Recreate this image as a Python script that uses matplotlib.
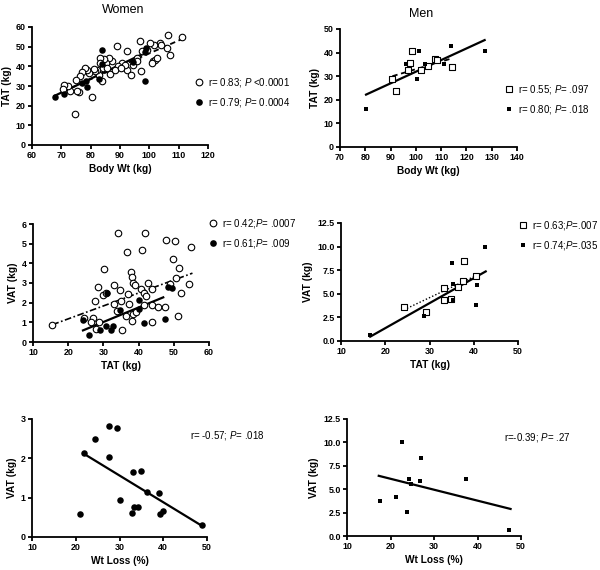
import matplotlib
matplotlib.use("Agg")
import matplotlib.pyplot as plt
from matplotlib.lines import Line2D
from matplotlib.ticker import FormatStrFormatter

plt.rcParams["font.family"] = ["Liberation Sans", "DejaVu Sans"]
plt.rcParams["mathtext.fontset"] = "custom"
plt.rcParams["mathtext.rm"] = "Liberation Sans"
plt.rcParams["mathtext.it"] = "Liberation Sans:italic"

# women: TAT vs body weight (open = all, filled = subgroup)
w_wt_open = [111.3, 106.4, 105.9, 107.0, 103.6, 104.0, 101.6, 100.2, 101.3, 102.0,
             100.9, 96.8, 97.6, 97.1, 95.7, 88.9, 92.5, 92.3, 93.6, 90.6,
             91.7, 89.2, 87.2, 86.4, 85.3, 84.6, 83.2, 83.2, 83.7, 82.8,
             82.1, 81.5, 81.0, 79.6, 78.7, 78.1, 77.0, 76.4, 75.1, 86.6,
             84.3, 80.4, 75.9, 75.3, 73.0, 72.2, 70.8, 70.5, 74.7, 85.7,
             88.3, 90.2, 94.5, 95.9, 99.1, 102.5]
w_tat_open = [54.8, 55.8, 49.3, 45.7, 51.9, 50.7, 51.0, 51.9, 42.9, 43.4,
              41.5, 53.0, 47.6, 37.4, 44.2, 50.2, 48.0, 38.3, 35.7, 41.7,
              40.8, 40.0, 42.5, 44.2, 41.7, 43.7, 44.2, 41.7, 32.3, 35.7,
              38.3, 37.4, 38.6, 36.6, 37.9, 39.1, 36.9, 34.9, 33.2, 36.2,
              39.1, 24.3, 26.7, 27.7, 27.4, 30.1, 30.3, 28.4, 15.8, 39.1,
              38.3, 39.1, 40.8, 42.5, 48.5, 44.2]
w_wt_fill = [67.7, 70.8, 84.0, 98.6, 98.8, 98.5, 94.5, 78.7, 78.5, 77.0, 82.9, 84.0]
w_tat_fill = [24.3, 25.9, 48.1, 32.3, 49.3, 47.3, 42.0, 29.4, 32.3, 31.5, 33.7, 41.0]
w_fit1_open_x = [70.5, 111.3]
w_fit1_open_y = [27.2, 54.0]
w_fit1_fill_x = [67.7, 98.8]
w_fit1_fill_y = [25.0, 47.0]

# men: TAT vs body weight
m_wt_open = [98.6, 97.6, 97.0, 90.7, 92.0, 102.2, 104.9, 107.5, 108.4, 114.1]
m_tat_open = [40.5, 35.8, 32.6, 29.0, 23.6, 32.6, 34.3, 37.4, 36.8, 33.8]
m_wt_fill = [80.3, 101.2, 96.1, 100.3, 103.8, 111.2, 113.8, 127.2]
m_tat_fill = [16.1, 40.8, 35.1, 28.8, 35.1, 35.2, 42.6, 40.5]
m_fit1_open_x = [90.7, 114.1]
m_fit1_open_y = [30.0, 37.5]
m_fit1_fill_x = [80.3, 127.2]
m_fit1_fill_y = [22.2, 45.3]

# women: VAT vs TAT
w_tat2_open = [15.5, 24.5, 27.0, 26.6, 28.0, 28.8, 27.7, 28.6, 30.1, 29.9,
               30.7, 33.0, 32.9, 33.9, 34.2, 34.8, 35.4, 35.1, 36.5, 36.7,
               36.9, 37.3, 37.9, 38.2, 38.4, 38.9, 38.4, 38.2, 39.2, 41.1,
               41.7, 40.8, 41.4, 42.0, 41.6, 42.7, 43.8, 43.7, 43.7, 45.5,
               47.4, 47.9, 50.4, 49.8, 51.4, 50.7, 48.8, 52.1, 51.2, 54.3, 55.0]
w_vat2_open = [0.86, 1.22, 1.22, 1.00, 0.65, 1.02, 2.10, 2.80, 3.70, 2.40,
               2.49, 2.92, 1.95, 1.59, 5.54, 2.66, 0.63, 2.07, 1.31, 4.58,
               2.46, 1.95, 3.56, 3.29, 3.00, 2.92, 1.40, 1.05, 1.53, 4.66,
               5.54, 2.71, 2.50, 2.33, 1.86, 3.00, 2.71, 1.90, 1.00, 1.78,
               1.78, 5.17, 5.14, 4.20, 3.75, 3.26, 2.97, 2.50, 1.31, 2.97, 4.83]
w_tat2_fill = [24.2, 25.8, 29.1, 30.6, 31.0, 32.3, 32.6, 34.8, 40.1, 40.0,
               41.5, 47.6, 48.4, 49.4]
w_vat2_fill = [1.10, 0.34, 0.63, 0.83, 2.49, 0.63, 0.80, 1.64, 2.15, 1.69,
               0.98, 1.19, 2.80, 2.75]
w_fit2_open_x = [15.5, 55.3]
w_fit2_open_y = [0.88, 3.50]
w_fit2_fill_x = [24.2, 47.0]
w_fit2_fill_y = [0.59, 2.27]

# men: VAT vs TAT
m_tat2_open = [24.2, 29.2, 33.3, 33.3, 34.8, 36.5, 37.5, 37.8, 40.4]
m_vat2_open = [3.56, 3.10, 4.30, 5.63, 4.46, 5.67, 6.37, 8.50, 6.90]
m_tat2_fill = [16.6, 28.8, 35.0, 35.2, 35.2, 40.6, 40.8, 42.5]
m_vat2_fill = [0.64, 2.66, 8.25, 6.06, 4.30, 3.80, 5.90, 10.0]
m_fit2_open_x = [24.2, 40.4]
m_fit2_open_y = [3.30, 6.90]
m_fit2_fill_x = [16.6, 42.7]
m_fit2_fill_y = [0.46, 7.37]

# VAT vs weight loss
w_loss = [21.0, 21.8, 24.4, 27.5, 29.5, 27.5, 30.0, 33.1, 34.8, 32.9,
          33.3, 34.2, 36.2, 39.1, 39.2, 39.9, 48.9]
w_vat3 = [0.58, 2.14, 2.50, 2.83, 2.76, 2.03, 0.95, 1.65, 1.69, 0.60,
          0.76, 0.76, 1.14, 1.11, 0.58, 0.65, 0.30]
w_fit3_x = [21.8, 48.9]
w_fit3_y = [2.12, 0.28]
m_loss = [17.5, 21.2, 22.6, 23.8, 24.3, 24.7, 26.7, 27.0, 37.3, 47.2]
m_vat3 = [3.79, 4.14, 10.0, 2.61, 6.07, 5.57, 5.89, 8.29, 6.07, 0.64]
m_fit3_x = [17.3, 47.6]
m_fit3_y = [6.43, 2.89]

fig = plt.figure(figsize=(6, 5.7), dpi=100)


def add_ax(l, r, t, b):
    # pixel box -> figure fraction
    return fig.add_axes([l / 600, 1 - b / 570, (r - l) / 600, (b - t) / 570])


def style(ax, xlim, xstep, ylim, ystep, xlabel, ylabel, yfmt=None):
    ax.set_xlim(*xlim)
    ax.set_ylim(*ylim)
    ax.set_xticks([xlim[0] + i * xstep for i in range(int(round((xlim[1] - xlim[0]) / xstep)) + 1)])
    ax.set_yticks([ylim[0] + i * ystep for i in range(int(round((ylim[1] - ylim[0]) / ystep)) + 1)])
    if yfmt:
        ax.yaxis.set_major_formatter(FormatStrFormatter(yfmt))
    for s in ["top", "right"]:
        ax.spines[s].set_visible(False)
    for s in ["left", "bottom"]:
        ax.spines[s].set_linewidth(1.3)
    ax.tick_params(direction="out", length=3, width=1.3, labelsize=6.4, pad=1.5)
    for lab in ax.get_xticklabels() + ax.get_yticklabels():
        lab.set_fontweight("bold")
    ax.set_xlabel(xlabel, fontsize=7.3, fontweight="bold", labelpad=2.5)
    ax.set_ylabel(ylabel, fontsize=7.3, fontweight="bold", labelpad=3)
    ax.patch.set_alpha(0)


circ_open = dict(marker="o", s=22, facecolors="white", edgecolors="black", linewidths=0.8, zorder=3)
circ_fill = dict(marker="o", s=22, c="black", linewidths=0, zorder=4)
sq_open = dict(marker="s", s=20, facecolors="white", edgecolors="black", linewidths=0.8, zorder=3)
sq_fill = dict(marker="s", s=12, c="black", linewidths=0, zorder=4)


def legend(ax, lx, ly, kind, labels):
    if kind == "o":
        h1 = Line2D([], [], marker="o", ls="none", ms=4.8, mfc="white", mec="black", mew=0.8)
        h2 = Line2D([], [], marker="o", ls="none", ms=4.8, mfc="black", mec="black", mew=0)
    else:
        h1 = Line2D([], [], marker="s", ls="none", ms=4.5, mfc="white", mec="black", mew=0.8)
        h2 = Line2D([], [], marker="s", ls="none", ms=3.5, mfc="black", mec="black", mew=0)
    ax.legend([h1, h2], labels, loc="upper left", bbox_to_anchor=(lx / 600, 1 - ly / 570),
              bbox_transform=fig.transFigure, frameon=False, fontsize=7,
              handlelength=0.8, handletextpad=0.5, labelspacing=0.75,
              borderpad=0, borderaxespad=0)


# women TAT vs weight
ax1 = add_ax(32, 208, 27, 145)
ax1.scatter(w_wt_open, w_tat_open, **circ_open)
ax1.scatter(w_wt_fill, w_tat_fill, **circ_fill)
ax1.plot(w_fit1_open_x, w_fit1_open_y, color="black", ls=(0, (3, 2)), lw=1.3, zorder=2)
ax1.plot(w_fit1_fill_x, w_fit1_fill_y, color="black", lw=1.6, zorder=2)
style(ax1, (60, 120), 10, (0, 60), 10, "Body Wt (kg)", "TAT (kg)")
legend(ax1, 195, 76, "o", [r"r= 0.83; $\mathit{P}$ <0.0001", r"r= 0.79; $\mathit{P}$= 0.0004"])
fig.text(123 / 600, 1 - 10 / 570, "Women", ha="center", va="center", fontsize=9)

# men TAT vs weight
ax2 = add_ax(340, 517, 29, 147)
ax2.scatter(m_wt_open, m_tat_open, **sq_open)
ax2.scatter(m_wt_fill, m_tat_fill, **sq_fill)
ax2.plot(m_fit1_open_x, m_fit1_open_y, color="black", ls=(0, (3, 2)), lw=1.3, zorder=2)
ax2.plot(m_fit1_fill_x, m_fit1_fill_y, color="black", lw=1.6, zorder=2)
style(ax2, (70, 140), 10, (0, 50), 10, "Body Wt (kg)", "TAT (kg)")
legend(ax2, 505, 83, "s", [r"r= 0.55; $\mathit{P}$= .097", r"r= 0.80; $\mathit{P}$= .018"])
fig.text(421 / 600, 1 - 14 / 570, "Men", ha="center", va="center", fontsize=9)

# women VAT vs TAT
ax3 = add_ax(33, 209, 224, 342)
ax3.scatter(w_tat2_open, w_vat2_open, **circ_open)
ax3.scatter(w_tat2_fill, w_vat2_fill, **circ_fill)
ax3.plot(w_fit2_open_x, w_fit2_open_y, color="black", ls=(0, (4, 1.5, 1, 1.5)), lw=1.2, zorder=2)
ax3.plot(w_fit2_fill_x, w_fit2_fill_y, color="black", lw=1.6, zorder=2)
style(ax3, (10, 60), 10, (0, 6), 1, "TAT (kg)", "VAT (kg)")
legend(ax3, 209, 217, "o", [r"r= 0.42;$\mathit{P}$= .0007", r"r= 0.61;$\mathit{P}$= .009"])

# men VAT vs TAT
ax4 = add_ax(341, 518, 223, 341)
ax4.scatter(m_tat2_open, m_vat2_open, **sq_open)
ax4.scatter(m_tat2_fill, m_vat2_fill, **sq_fill)
ax4.plot(m_fit2_open_x, m_fit2_open_y, color="black", ls=(0, (1, 1.5)), lw=1.0, zorder=2)
ax4.plot(m_fit2_fill_x, m_fit2_fill_y, color="black", lw=1.6, zorder=2)
style(ax4, (10, 50), 10, (0, 12.5), 2.5, "TAT (kg)", "VAT (kg)", yfmt="%.1f")
legend(ax4, 519, 219, "s", [r"r= 0.63;$\mathit{P}$=.007", r"r= 0.74;$\mathit{P}$=.035"])

# women VAT vs weight loss
ax5 = add_ax(32, 207, 419, 537)
ax5.scatter(w_loss, w_vat3, **circ_fill)
ax5.plot(w_fit3_x, w_fit3_y, color="black", lw=1.6, zorder=2)
style(ax5, (10, 50), 10, (0, 3), 1, "Wt Loss (%)", "VAT (kg)")
fig.text(190 / 600, 1 - 435 / 570, r"r= -0.57; $\mathit{P}$= .018", ha="left", va="center", fontsize=7)

# men VAT vs weight loss
ax6 = add_ax(347, 521, 419, 536)
ax6.scatter(m_loss, m_vat3, **sq_fill)
ax6.plot(m_fit3_x, m_fit3_y, color="black", lw=1.6, zorder=2)
style(ax6, (10, 50), 10, (0, 12.5), 2.5, "Wt Loss (%)", "VAT (kg)", yfmt="%.1f")
fig.text(504 / 600, 1 - 438 / 570, r"r=-0.39; $\mathit{P}$= .27", ha="left", va="center", fontsize=7)

fig.savefig("out.png", dpi=100)
